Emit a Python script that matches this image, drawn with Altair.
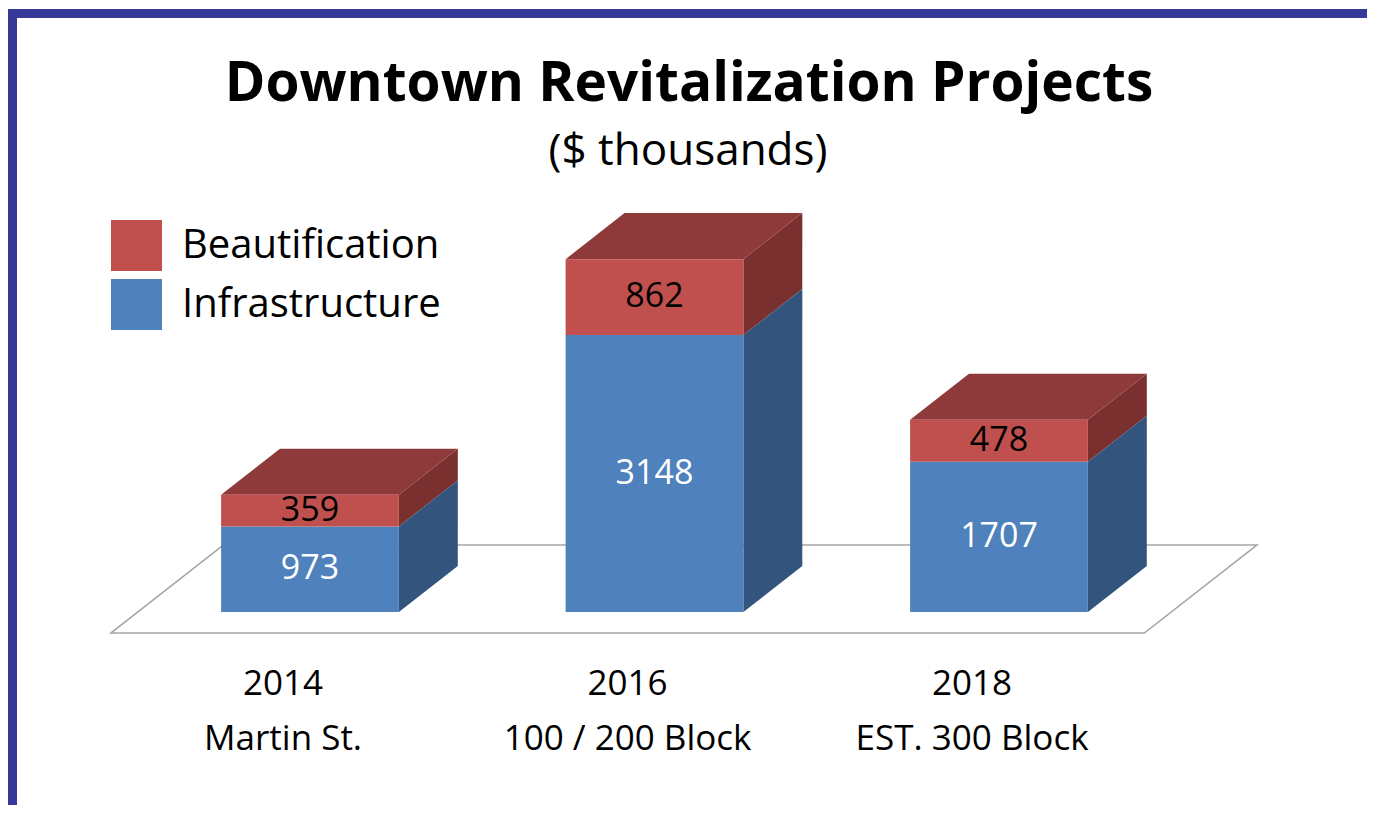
import altair as alt
import pandas as pd

# ---- data ----
years = ["2014", "2016", "2018"]
places = ["Martin St.", "100 / 200 Block", "EST. 300 Block"]
infrastructure = [973, 3148, 1707]
beautification = [359, 862, 478]
series = ["Beautification", "Infrastructure"]
title_text = "Downtown Revitalization Projects"
subtitle_text = "($ thousands)"

# ---- style ----
front_colors = ["#C0504D", "#4F81BD"]
side_colors = {"Beautification": "#7B3030", "Infrastructure": "#33547C"}
top_color = "#8F3A3A"
border_color = "#36399A"
FONT = "Open Sans"

W, H = 1359, 797
HALF = 0.258          # half bar width (category units)
DX = 0.171            # depth shift in x (category units)
DY = 523              # depth shift in y (value units)
Z0, Z1 = -0.457, 1.457  # floor depth extent
XDOM = [-0.8766, 3.0682]
YDOM = [-2193, 6864]

front, side, top, labels = [], [], [], []
for i, (yr, pl, inf, bea) in enumerate(zip(years, places, infrastructure, beautification)):
    segs = [("Infrastructure", 0, inf), ("Beautification", inf, inf + bea)]
    for s, a, b in segs:
        front.append(dict(series=s, x=i - HALF, x2=i + HALF, y=a, y2=b,
                          mid=(a + b) / 2, cx=i, val=b - a))
        side.append(dict(seg=f"{i}-{s}", series=s, x=i + HALF, lo=a, hi=b))
        side.append(dict(seg=f"{i}-{s}", series=s, x=i + HALF + DX, lo=a + DY, hi=b + DY))
    tot = inf + bea
    top.append(dict(bar=i, y=tot, x=i - HALF, x2=i + HALF))
    top.append(dict(bar=i, y=tot + DY, x=i - HALF + DX, x2=i + HALF + DX))
    labels.append(dict(x=i + Z0 * DX, y=Z0 * DY, text=f"{yr}\n{pl}"))

floor = [dict(y=Z0 * DY, x=-0.5 + Z0 * DX, x2=2.5 + Z0 * DX),
         dict(y=Z1 * DY, x=-0.5 + Z1 * DX, x2=2.5 + Z1 * DX)]

front_df = pd.DataFrame(front)
side_df = pd.DataFrame(side)
top_df = pd.DataFrame(top)
lab_df = pd.DataFrame(labels)
floor_df = pd.DataFrame(floor)

xs = alt.Scale(domain=XDOM, nice=False, zero=False)
ys = alt.Scale(domain=YDOM, nice=False, zero=False)


def X(f):
    return alt.X(f, scale=xs, axis=None, stack=None)


def Y(f):
    return alt.Y(f, scale=ys, axis=None, stack=None)


floor_layer = alt.Chart(floor_df).mark_area(
    orient="horizontal", fill="white", stroke="#A6A6A6", strokeWidth=1.5
).encode(y=Y("y:Q"), x=X("x:Q"), x2="x2:Q")

side_layers = [
    alt.Chart(side_df[side_df.series == s]).mark_area(color=side_colors[s]).encode(
        x=X("x:Q"), y=Y("lo:Q"), y2="hi:Q", detail="seg:N")
    for s in series
]

top_layer = alt.Chart(top_df).mark_area(orient="horizontal", color=top_color).encode(
    y=Y("y:Q"), x=X("x:Q"), x2="x2:Q", detail="bar:N")

front_layer = alt.Chart(front_df).mark_rect().encode(
    x=X("x:Q"), x2="x2:Q", y=Y("y:Q"), y2="y2:Q",
    color=alt.Color("series:N",
                    scale=alt.Scale(domain=series, range=front_colors),
                    legend=alt.Legend(orient="none", legendX=103, legendY=212, title=None,
                                      symbolType="square", symbolSize=2600,
                                      symbolStrokeWidth=0, labelFont=FONT,
                                      labelFontSize=40, labelColor="black",
                                      rowPadding=8, labelOffset=20, padding=0,
                                      labelLimit=400)))

value_layers = [
    alt.Chart(front_df[front_df.series == s]).mark_text(
        font=FONT, fontSize=34, baseline="middle", align="center",
        color=("black" if s == "Beautification" else "white")
    ).encode(x=X("cx:Q"), y=Y("mid:Q"), text="val:Q")
    for s in series
]

cat_layer = alt.Chart(lab_df).mark_text(
    font=FONT, fontSize=35, baseline="alphabetic", align="center",
    lineBreak="\n", lineHeight=55, dy=62, color="black"
).encode(x=X("x:Q"), y=Y("y:Q"), text="text:N")

title_layer = alt.Chart(pd.DataFrame({"t": [title_text]})).mark_text(
    font=FONT, fontWeight="bold", fontSize=55, baseline="alphabetic", align="center",
    color="black"
).encode(x=alt.value(681), y=alt.value(93), text="t:N")

subtitle_layer = alt.Chart(pd.DataFrame({"t": [subtitle_text]})).mark_text(
    font=FONT, fontSize=44, baseline="alphabetic", align="center", color="black"
).encode(x=alt.value(680), y=alt.value(157), text="t:N")

border_top = alt.Chart(pd.DataFrame({"a": [0]})).mark_rect(
    color=border_color
).encode(x=alt.value(0), x2=alt.value(W), y=alt.value(1), y2=alt.value(10))

border_left = alt.Chart(pd.DataFrame({"a": [0]})).mark_rect(
    color=border_color
).encode(x=alt.value(0), x2=alt.value(9), y=alt.value(1), y2=alt.value(H))

chart = alt.layer(
    floor_layer, *side_layers, top_layer, front_layer, *value_layers,
    cat_layer, title_layer, subtitle_layer, border_top, border_left
).properties(width=W, height=H, padding=0).configure_view(stroke=None)

chart.save("out.html", embed_options={"renderer": "svg", "actions": False})
